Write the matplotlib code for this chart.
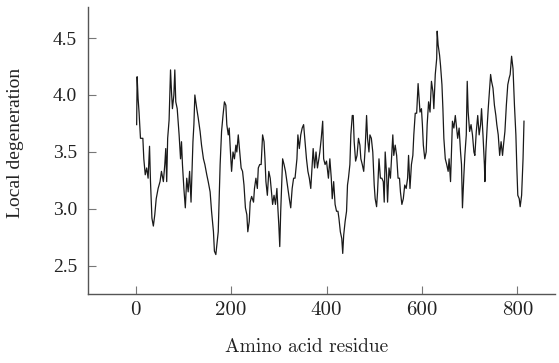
import matplotlib
matplotlib.use("Agg")
import matplotlib.pyplot as plt

residue = [2, 3, 5, 7, 10, 15, 17, 20, 23, 26, 29, 31, 34, 37, 40, 43, 47, 51, 54, 58,
           61, 63, 65, 67, 70, 73, 75, 77, 80, 82, 84, 87, 91, 94, 96, 98, 101, 104, 107, 110,
           113, 116, 118, 120, 122, 124,
           128, 131, 135, 138, 142, 145, 149, 152, 156, 159, 163, 165, 168, 170, 173, 175, 177,
           180, 183, 186, 189, 191, 194, 196, 199, 201, 204, 207, 210, 212, 215, 218, 221, 224,
           227, 230, 233, 235, 238, 240, 243, 247, 249, 252, 255, 257, 260,
           263, 266, 269, 271, 273, 276, 279, 282, 284, 287, 290, 293, 296, 298, 300, 302, 304,
           306, 308, 311, 314, 317, 319, 322, 325, 328, 331, 334, 338, 340, 343, 346, 349, 352,
           355, 358, 361, 364, 367, 370, 372, 375, 378, 381, 384, 386, 389, 392, 394, 397,
           400, 404, 407, 410, 412, 415, 418, 421, 424, 426, 429, 432, 434, 436, 439, 442, 444,
           446, 449, 451, 454, 456, 458, 461, 464, 467, 470, 472, 475, 478, 481, 484, 486, 489,
           491, 494, 497, 500, 502, 505, 507, 510, 513, 516, 519, 521, 523, 526, 528, 531,
           534, 537, 539, 541, 544, 547, 550, 553, 555, 558, 561, 564, 567, 570, 572, 575, 578,
           581, 583, 586, 589, 592, 594, 596, 599, 601, 603, 606, 609, 611, 614, 617, 620, 623,
           625, 628, 631, 632, 634, 637, 639, 642, 644, 646, 649, 652, 655, 657, 660, 662, 664,
           667,
           670, 672, 675, 678, 681, 683, 685, 688, 690, 693, 695, 697, 700, 703, 706, 709, 711,
           714, 717, 720, 723, 725, 728, 731, 732, 734, 737, 739, 742, 744, 746, 749, 752, 755,
           757, 760, 763, 766, 769, 771, 774, 777, 780, 783, 785, 788, 791, 794, 797, 799, 801,
           804, 806, 809, 812, 814]

degeneration = [3.74, 4.16, 3.97, 3.85, 3.62, 3.62, 3.44, 3.30, 3.36, 3.27, 3.55, 3.24, 2.92, 2.85, 2.95, 3.09, 3.18, 3.24, 3.33, 3.24,
                3.39, 3.53, 3.24, 3.62, 3.78, 4.22, 4.03, 3.88, 4.00, 4.22, 3.94, 3.88, 3.65, 3.44, 3.59, 3.39, 3.18, 3.01, 3.27, 3.15,
                3.33, 3.06, 3.33, 3.59, 3.74, 4.00,
                3.88, 3.80, 3.68, 3.56, 3.44, 3.39, 3.30, 3.24, 3.15, 2.98, 2.80, 2.63, 2.60, 2.68, 2.80, 3.09, 3.39,
                3.68, 3.82, 3.94, 3.91, 3.74, 3.65, 3.71, 3.47, 3.33, 3.50, 3.44, 3.56, 3.50, 3.65, 3.50, 3.36, 3.33,
                3.21, 3.01, 2.95, 2.80, 2.89, 3.06, 3.11, 3.06, 3.18, 3.27, 3.18, 3.36, 3.39,
                3.39, 3.65, 3.59, 3.44, 3.24, 3.12, 3.33, 3.27, 3.18, 3.04, 3.12, 3.04, 3.18, 3.01, 2.86, 2.67, 2.98,
                3.21, 3.44, 3.39, 3.33, 3.24, 3.18, 3.09, 3.01, 3.18, 3.27, 3.27, 3.44, 3.65, 3.53, 3.65, 3.71, 3.74,
                3.59, 3.44, 3.33, 3.27, 3.18, 3.39, 3.53, 3.36, 3.50, 3.36, 3.44, 3.50, 3.62, 3.77, 3.44, 3.39,
                3.42, 3.27, 3.44, 3.27, 3.09, 3.24, 3.04, 2.98, 2.98, 2.92, 2.80, 2.74, 2.61, 2.77, 2.89, 2.98, 3.21,
                3.27, 3.39, 3.65, 3.82, 3.82, 3.59, 3.42, 3.47, 3.62, 3.56, 3.44, 3.39, 3.33, 3.53, 3.82, 3.62, 3.50,
                3.65, 3.62, 3.50, 3.21, 3.09, 3.02, 3.15, 3.44, 3.27, 3.27, 3.24, 3.06, 3.50, 3.30, 3.06, 3.36,
                3.27, 3.50, 3.65, 3.47, 3.56, 3.47, 3.27, 3.27, 3.15, 3.04, 3.09, 3.21, 3.18, 3.27, 3.47, 3.18, 3.39,
                3.47, 3.65, 3.84, 3.84, 4.10, 3.97, 3.85, 3.88, 3.74, 3.56, 3.44, 3.50, 3.74, 3.94, 3.85, 4.12, 4.03,
                3.88, 4.18, 4.32, 4.56, 4.44, 4.35, 4.26, 4.09, 3.88, 3.62, 3.44, 3.39, 3.33, 3.44, 3.24, 3.50, 3.77,
                3.71,
                3.82, 3.74, 3.62, 3.71, 3.50, 3.39, 3.01, 3.30, 3.47, 3.65, 4.12, 3.85, 3.68, 3.74, 3.65, 3.50, 3.47,
                3.68, 3.82, 3.65, 3.74, 3.88, 3.65, 3.39, 3.24, 3.50, 3.74, 3.88, 4.06, 4.18, 4.12, 4.06, 3.91, 3.82,
                3.74, 3.65, 3.47, 3.59, 3.47, 3.56, 3.68, 3.91, 4.09, 4.15, 4.18, 4.34, 4.23, 3.91, 3.65, 3.36, 3.12,
                3.09, 3.02, 3.12, 3.44, 3.77]

x_ticks = [0, 200, 400, 600, 800]
y_ticks = [2.5, 3.0, 3.5, 4.0, 4.5]
y_tick_labels = ["2.5", "3.0", "3.5", "4.0", "4.5"]

fig = plt.figure(figsize=(5.59, 3.63), dpi=100)
ax = fig.add_axes([88 / 559, 69 / 363, 467 / 559, 287 / 363])

ax.plot(residue, degeneration, color="#1a1a1a", linewidth=0.9)

ax.set_xlim(-100, 879)
ax.set_ylim(2.254, 4.772)

for s in ["top", "right"]:
    ax.spines[s].set_visible(False)
for s in ["left", "bottom"]:
    ax.spines[s].set_color("#555555")
    ax.spines[s].set_linewidth(1.0)

ax.set_xticks(x_ticks)
ax.set_xticklabels([str(t) for t in x_ticks], fontfamily="cmr10", fontsize=15)
ax.set_yticks(y_ticks)
ax.set_yticklabels(y_tick_labels, fontfamily="Liberation Serif", fontsize=14)
ax.tick_params(axis="both", direction="in", length=6, width=0.8, color="#777777",
               labelcolor="#222222")
ax.tick_params(axis="x", pad=5)
ax.tick_params(axis="y", pad=8)

ax.set_xlabel("Amino acid residue", fontfamily="cmr10", fontsize=14, color="#222222")
ax.xaxis.set_label_coords(0.467, -0.153)
ax.set_ylabel("Local degeneration", fontfamily="Liberation Serif", fontsize=14, color="#222222")
ax.yaxis.set_label_coords(-0.137, 0.526)

fig.savefig("out.png", dpi=100)
